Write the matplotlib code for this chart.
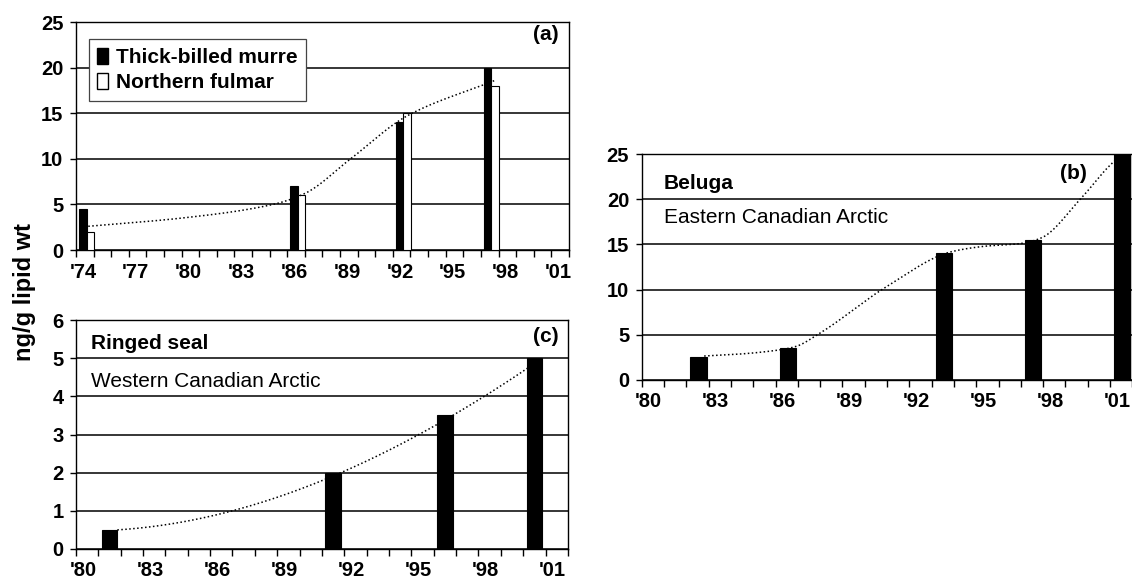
import numpy as np
import matplotlib.pyplot as plt
from matplotlib.patches import Patch
from matplotlib.ticker import MultipleLocator, FuncFormatter
from matplotlib.transforms import ScaledTranslation

plt.rcParams['font.family'] = ['Liberation Sans', 'DejaVu Sans']
plt.rcParams['font.weight'] = 'bold'

# (a) seabirds: sampling years, values (ng/g lipid wt)
years_a = [1974, 1986, 1992, 1997]
murre = [4.5, 7, 14, 20]
fulmar = [2, 6, 15, 18]
# dotted trend
trend_a_x = [1974.7, 1980.0, 1985.2, 1987.0, 1989.6, 1992.8, 1997.8]
trend_a_y = [2.6, 3.5, 5.0, 6.2, 10.0, 14.7, 18.6]

# (b) beluga
years_b = [1982, 1986, 1993, 1997, 2001]
beluga = [2.5, 3.5, 14, 15.5, 25]
trend_b_x = [1982.8, 1984.3, 1986.1, 1986.9, 1988.0, 1990.9, 1993.9, 1995.4,
             1997.0, 1997.9, 1999.7, 2001.1, 2001.6]
trend_b_y = [2.65, 2.85, 3.3, 3.7, 5.2, 10.2, 14.2, 14.8, 15.1, 15.7, 20.1, 24.0, 25.0]

# (c) ringed seal
years_c = [1981, 1991, 1996, 2000]
seal = [0.5, 2, 3.5, 5]


def yr_fmt(v, pos):
    return "'%02d" % (int(round(v)) % 100)


def smooth(x, y, n=300):
    # monotone cubic (Fritsch-Carlson) through the read points
    x = np.asarray(x, float)
    y = np.asarray(y, float)
    h = np.diff(x)
    d = np.diff(y) / h
    m = np.zeros_like(y)
    m[0], m[-1] = d[0], d[-1]
    for i in range(1, len(x) - 1):
        if d[i - 1] * d[i] > 0:
            w1 = 2 * h[i] + h[i - 1]
            w2 = h[i] + 2 * h[i - 1]
            m[i] = (w1 + w2) / (w1 / d[i - 1] + w2 / d[i])
    xs = np.linspace(x[0], x[-1], n)
    k = np.clip(np.searchsorted(x, xs) - 1, 0, len(x) - 2)
    t = (xs - x[k]) / h[k]
    h00 = 2 * t**3 - 3 * t**2 + 1
    h10 = t**3 - 2 * t**2 + t
    h01 = -2 * t**3 + 3 * t**2
    h11 = t**3 - t**2
    ys = h00 * y[k] + h10 * h[k] * m[k] + h01 * y[k + 1] + h11 * h[k] * m[k + 1]
    return xs, ys


def dotted(ax, xs, ys):
    ax.plot(xs, ys, color='black', lw=1.1, linestyle=(0, (1, 1.6)), zorder=4)


def style_axes(ax, x0, x1, ymax, ystep):
    ax.set_xlim(x0, x1)
    ax.set_ylim(0, ymax)
    ax.xaxis.set_major_locator(MultipleLocator(3))
    ax.xaxis.set_minor_locator(MultipleLocator(1))
    ax.xaxis.set_major_formatter(FuncFormatter(yr_fmt))
    ax.yaxis.set_major_locator(MultipleLocator(ystep))
    ax.set_xticks(np.arange(x0, x1, 3))
    ax.tick_params(axis='x', which='both', direction='out', length=5, width=1,
                   pad=4, labelsize=14.5)
    ax.tick_params(axis='y', direction='out', length=4, width=1, pad=5, labelsize=14.5)
    shift = ScaledTranslation(7 / 100, 0, fig.dpi_scale_trans)
    for lab in ax.get_xticklabels():
        lab.set_transform(lab.get_transform() + shift)
    for s in ax.spines.values():
        s.set_color('black')
        s.set_linewidth(1)
    ax.yaxis.grid(True, color='black', linewidth=1.1, zorder=0)
    ax.set_axisbelow(True)


fig = plt.figure(figsize=(11.32, 5.81), dpi=100)

# ---- panel (a)
ax_a = fig.add_axes([0.0671, 0.5697, 0.4355, 0.3924])
w = 0.42
xa = np.array(years_a) + 0.6
ax_a.bar(xa - w / 2, murre, width=w, color='black', edgecolor='black', lw=0.8, zorder=3)
ax_a.bar(xa + w / 2, fulmar, width=w, color='white', edgecolor='black', lw=0.8, zorder=3)
dotted(ax_a, *smooth(trend_a_x, trend_a_y))
style_axes(ax_a, 1974, 2002, 25, 5)
ax_a.text(0.98, 0.945, '(a)', transform=ax_a.transAxes, ha='right', va='center',
          fontsize=15, fontweight='bold')
handles = [Patch(facecolor='black', edgecolor='black', label='Thick-billed murre'),
           Patch(facecolor='white', edgecolor='black', label='Northern fulmar')]
leg = ax_a.legend(handles=handles, loc='upper left', bbox_to_anchor=(0.026, 0.924),
                  prop={'size': 15, 'weight': 'bold'}, fancybox=False, framealpha=1,
                  edgecolor='#444444', handlelength=0.5, handleheight=0.8,
                  handletextpad=0.4, labelspacing=0.3, borderpad=0.4,
                  borderaxespad=0)
leg.get_frame().set_linewidth(0.9)
leg.set_zorder(6)

# ---- panel (c)
ax_c = fig.add_axes([0.0671, 0.0551, 0.4346, 0.3941])
wc = 0.7
xc = np.array(years_c) + 0.5
ax_c.bar(xc, seal, width=wc, color='black', edgecolor='black', lw=0.8, zorder=3)
cc = np.polyfit(xc + wc / 2, seal, 3)
xs_c = np.linspace(xc[0] + wc / 2, xc[-1] + wc / 2, 200)
dotted(ax_c, xs_c, np.polyval(cc, xs_c))
style_axes(ax_c, 1980, 2002, 6, 1)
ax_c.text(0.982, 0.927, '(c)', transform=ax_c.transAxes, ha='right', va='center',
          fontsize=15, fontweight='bold')
ax_c.text(0.030, 0.898, 'Ringed seal', transform=ax_c.transAxes, ha='left', va='center',
          fontsize=15, fontweight='bold')
ax_c.text(0.030, 0.731, 'Western Canadian Arctic', transform=ax_c.transAxes, ha='left',
          va='center', fontsize=15, fontweight='normal')

# ---- panel (b)
ax_b = fig.add_axes([0.5669, 0.3460, 0.4334, 0.3889])
wb = 0.73
xb = np.array(years_b) + 0.55
ax_b.bar(xb, beluga, width=wb, color='black', edgecolor='black', lw=0.8, zorder=3)
dotted(ax_b, *smooth(trend_b_x, trend_b_y))
style_axes(ax_b, 1980, 2002, 25, 5)
ax_b.text(0.908, 0.916, '(b)', transform=ax_b.transAxes, ha='right', va='center',
          fontsize=15, fontweight='bold')
ax_b.text(0.045, 0.870, 'Beluga', transform=ax_b.transAxes, ha='left', va='center',
          fontsize=15, fontweight='bold')
ax_b.text(0.045, 0.720, 'Eastern Canadian Arctic', transform=ax_b.transAxes, ha='left',
          va='center', fontsize=15, fontweight='normal')

fig.text(0.022, 0.497, 'ng/g lipid wt', rotation=90, ha='center', va='center',
         fontsize=17, fontweight='bold')

fig.savefig('out.png', dpi=100)
